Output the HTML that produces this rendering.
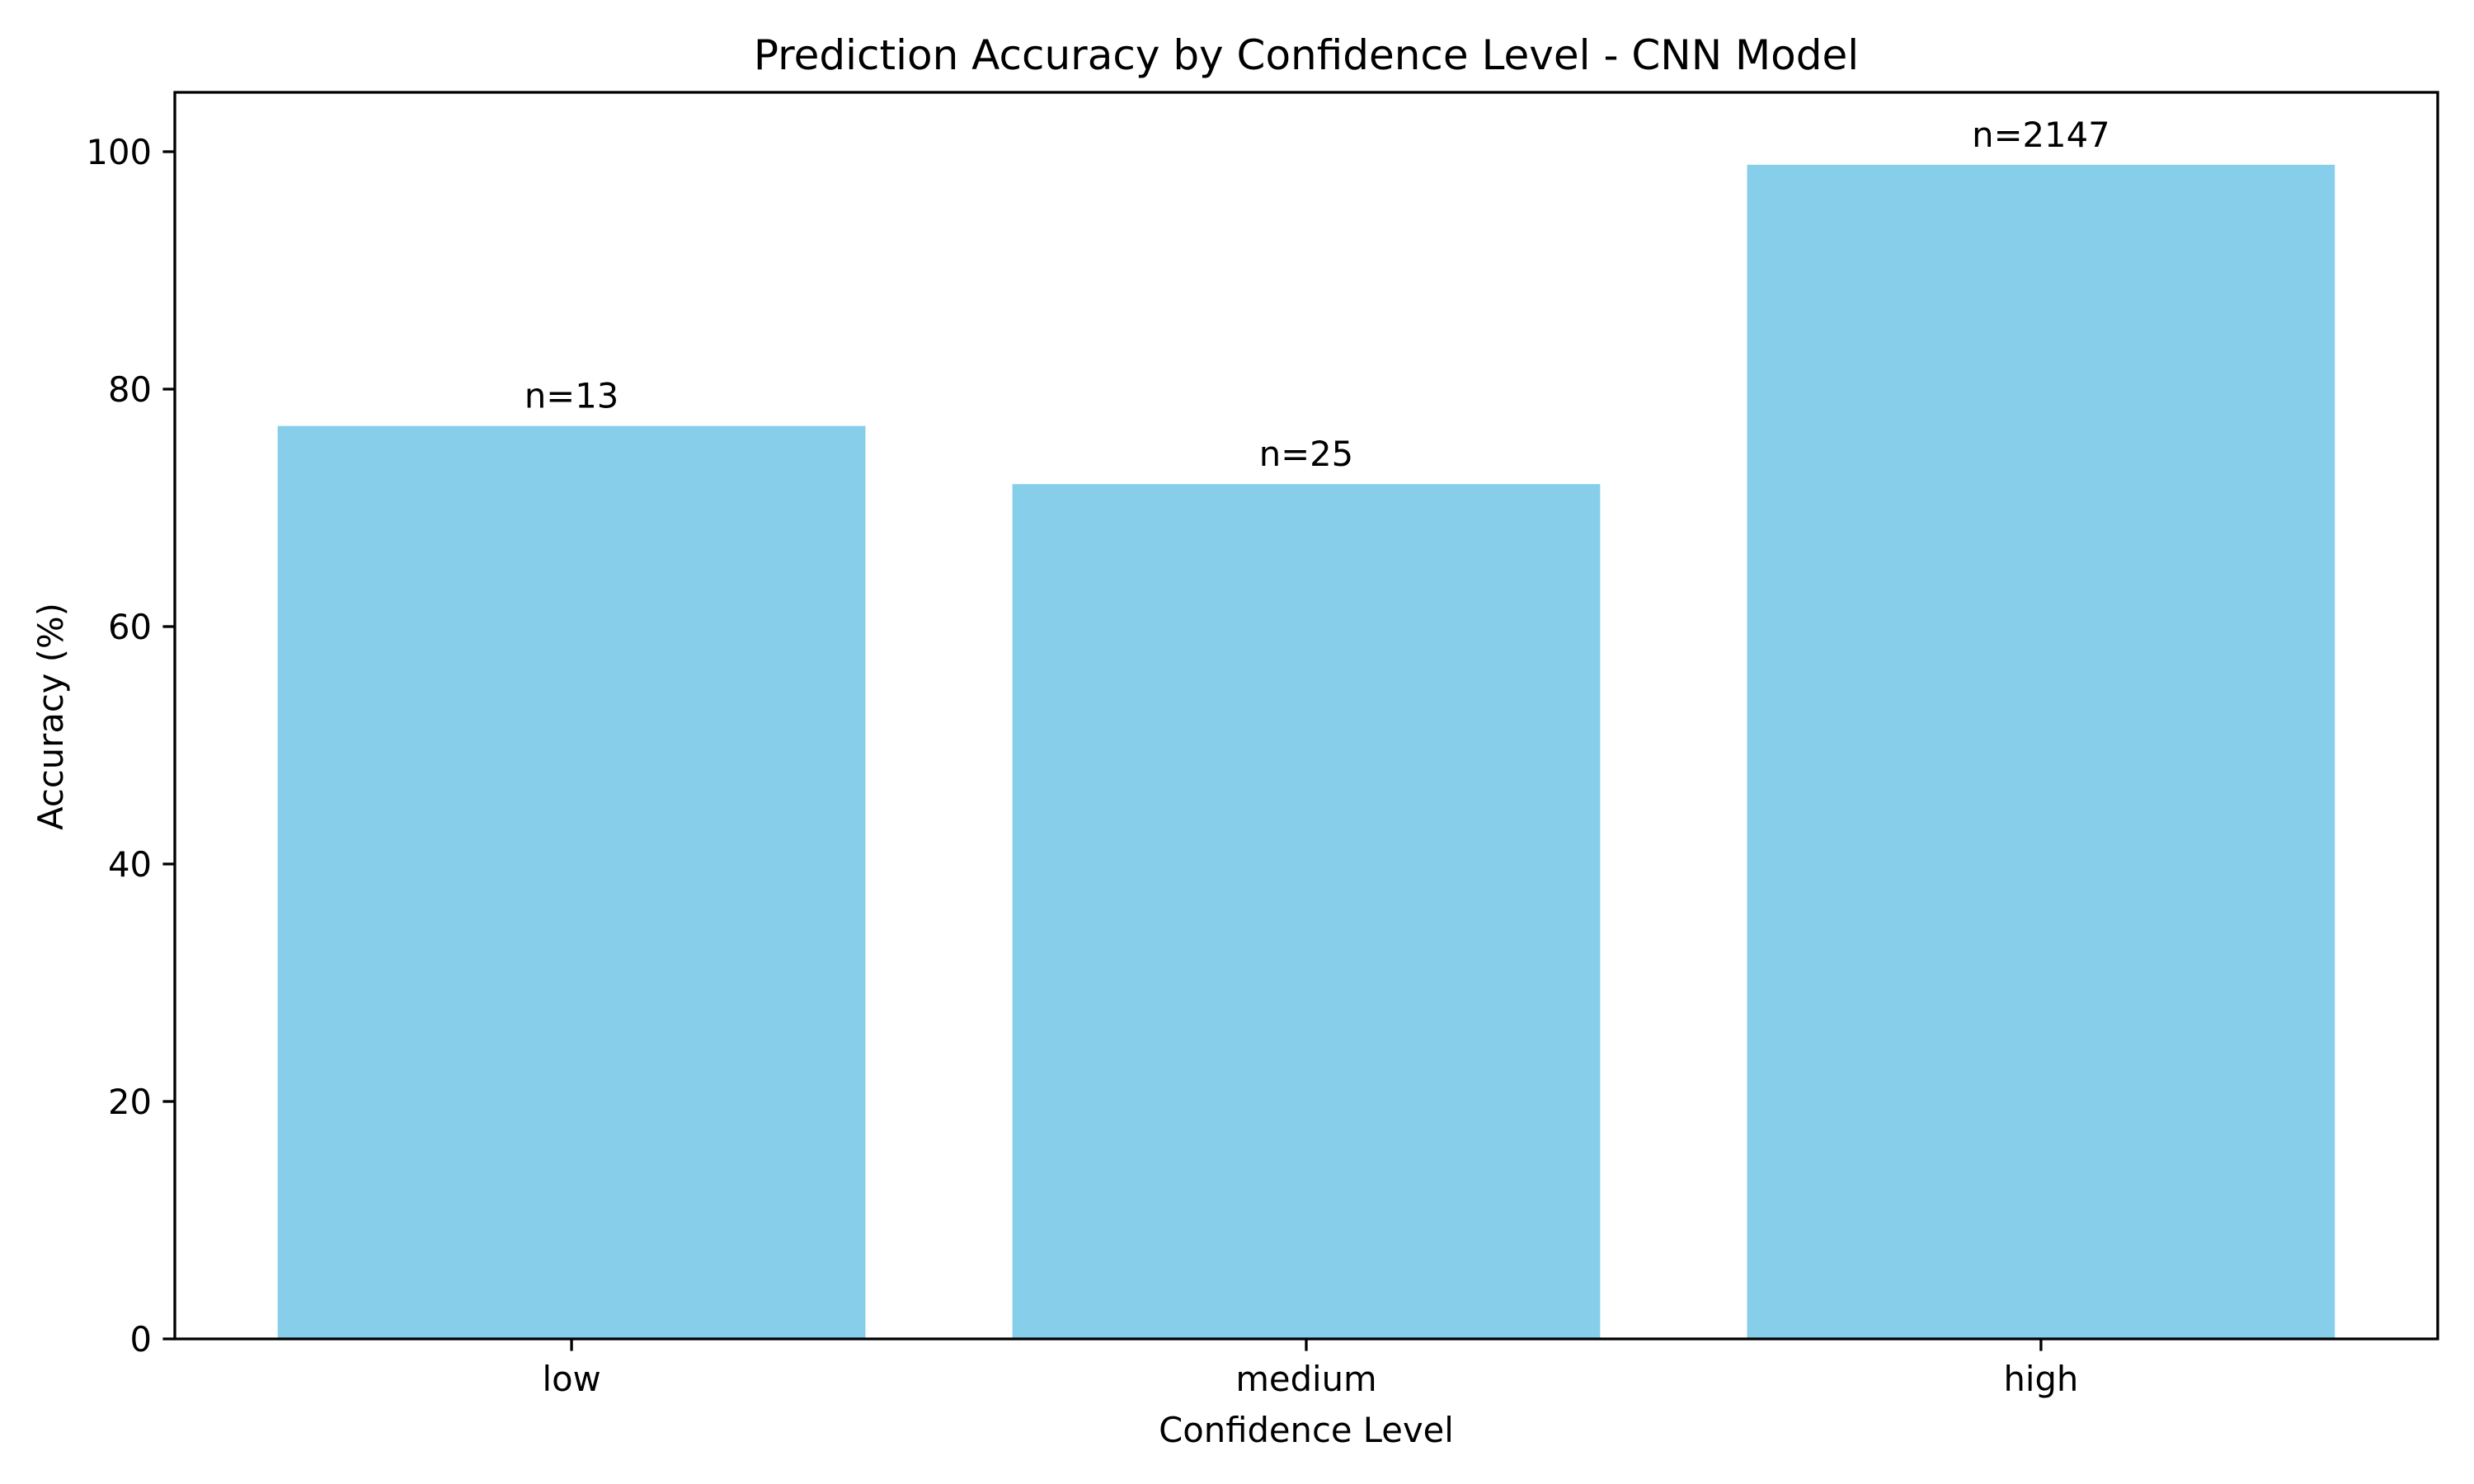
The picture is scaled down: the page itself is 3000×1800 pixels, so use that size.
<!DOCTYPE html>
<html><head><meta charset="utf-8"><style>
html,body{margin:0;padding:0;background:#fff}
svg{display:block;font-family:"DejaVu Sans","Liberation Sans",sans-serif}
</style></head><body>
<svg id="chart" width="3000" height="1800" viewBox="0 0 3000 1800">
<rect width="3000" height="1800" fill="#fff"/>
<text x="1584" y="84" font-size="50" text-anchor="middle">Prediction Accuracy by Confidence Level - CNN Model</text>
<g id="bars"></g>
<g id="axes"></g>
<text x="1584" y="1749" font-size="41.7" text-anchor="middle">Confidence Level</text>
<text transform="translate(76,869) rotate(-90)" font-size="41.7" text-anchor="middle">Accuracy (%)</text>
</svg>
<script>
const categories = ["low","medium","high"];
const accuracy = [76.9, 72.0, 98.9];
const counts = ["n=13","n=25","n=2147"];
const yTicks = [0,20,40,60,80,100];

const L=212, R=2956, T=112, B=1624;
const xMin=-0.54, xMax=2.54, yMax=105;
const NS="http://www.w3.org/2000/svg";
function xs(v){return L+(v-xMin)/(xMax-xMin)*(R-L);}
function ys(v){return B-v/yMax*(B-T);}
function mk(tag,attrs,parent){const e=document.createElementNS(NS,tag);for(const k in attrs)e.setAttribute(k,attrs[k]);parent.appendChild(e);return e;}
const bars=document.getElementById('bars'), axes=document.getElementById('axes');
categories.forEach((c,i)=>{
  const x0=xs(i-0.4), x1=xs(i+0.4), y=ys(accuracy[i]);
  const r=mk('rect',{x:x0,y:y,width:x1-x0,height:B-y,fill:'#87ceeb'},bars);
  
  
  const t=mk('text',{x:xs(i),y:y-22,'font-size':41.7,'text-anchor':'middle'},bars);
  t.textContent=counts[i];
  
  
  const tk=mk('line',{x1:xs(i),x2:xs(i),y1:B,y2:B+14.6,stroke:'#000','stroke-width':3.3},axes);
  
  
  const tl=mk('text',{x:xs(i),y:B+63,'font-size':41.7,'text-anchor':'middle'},axes);
  tl.textContent=c;
  
  
});
yTicks.forEach(v=>{
  const tk=mk('line',{x1:L-14.6,x2:L,y1:ys(v),y2:ys(v),stroke:'#000','stroke-width':3.3},axes);
  
  
  const tl=mk('text',{x:L-28,y:ys(v)+15,'font-size':41.7,'text-anchor':'end'},axes);
  tl.textContent=v;
  
  
});
const frame=mk('rect',{x:L,y:T,width:R-L,height:B-T,fill:'none',stroke:'#000','stroke-width':3.3},axes);


</script>
</body></html>
